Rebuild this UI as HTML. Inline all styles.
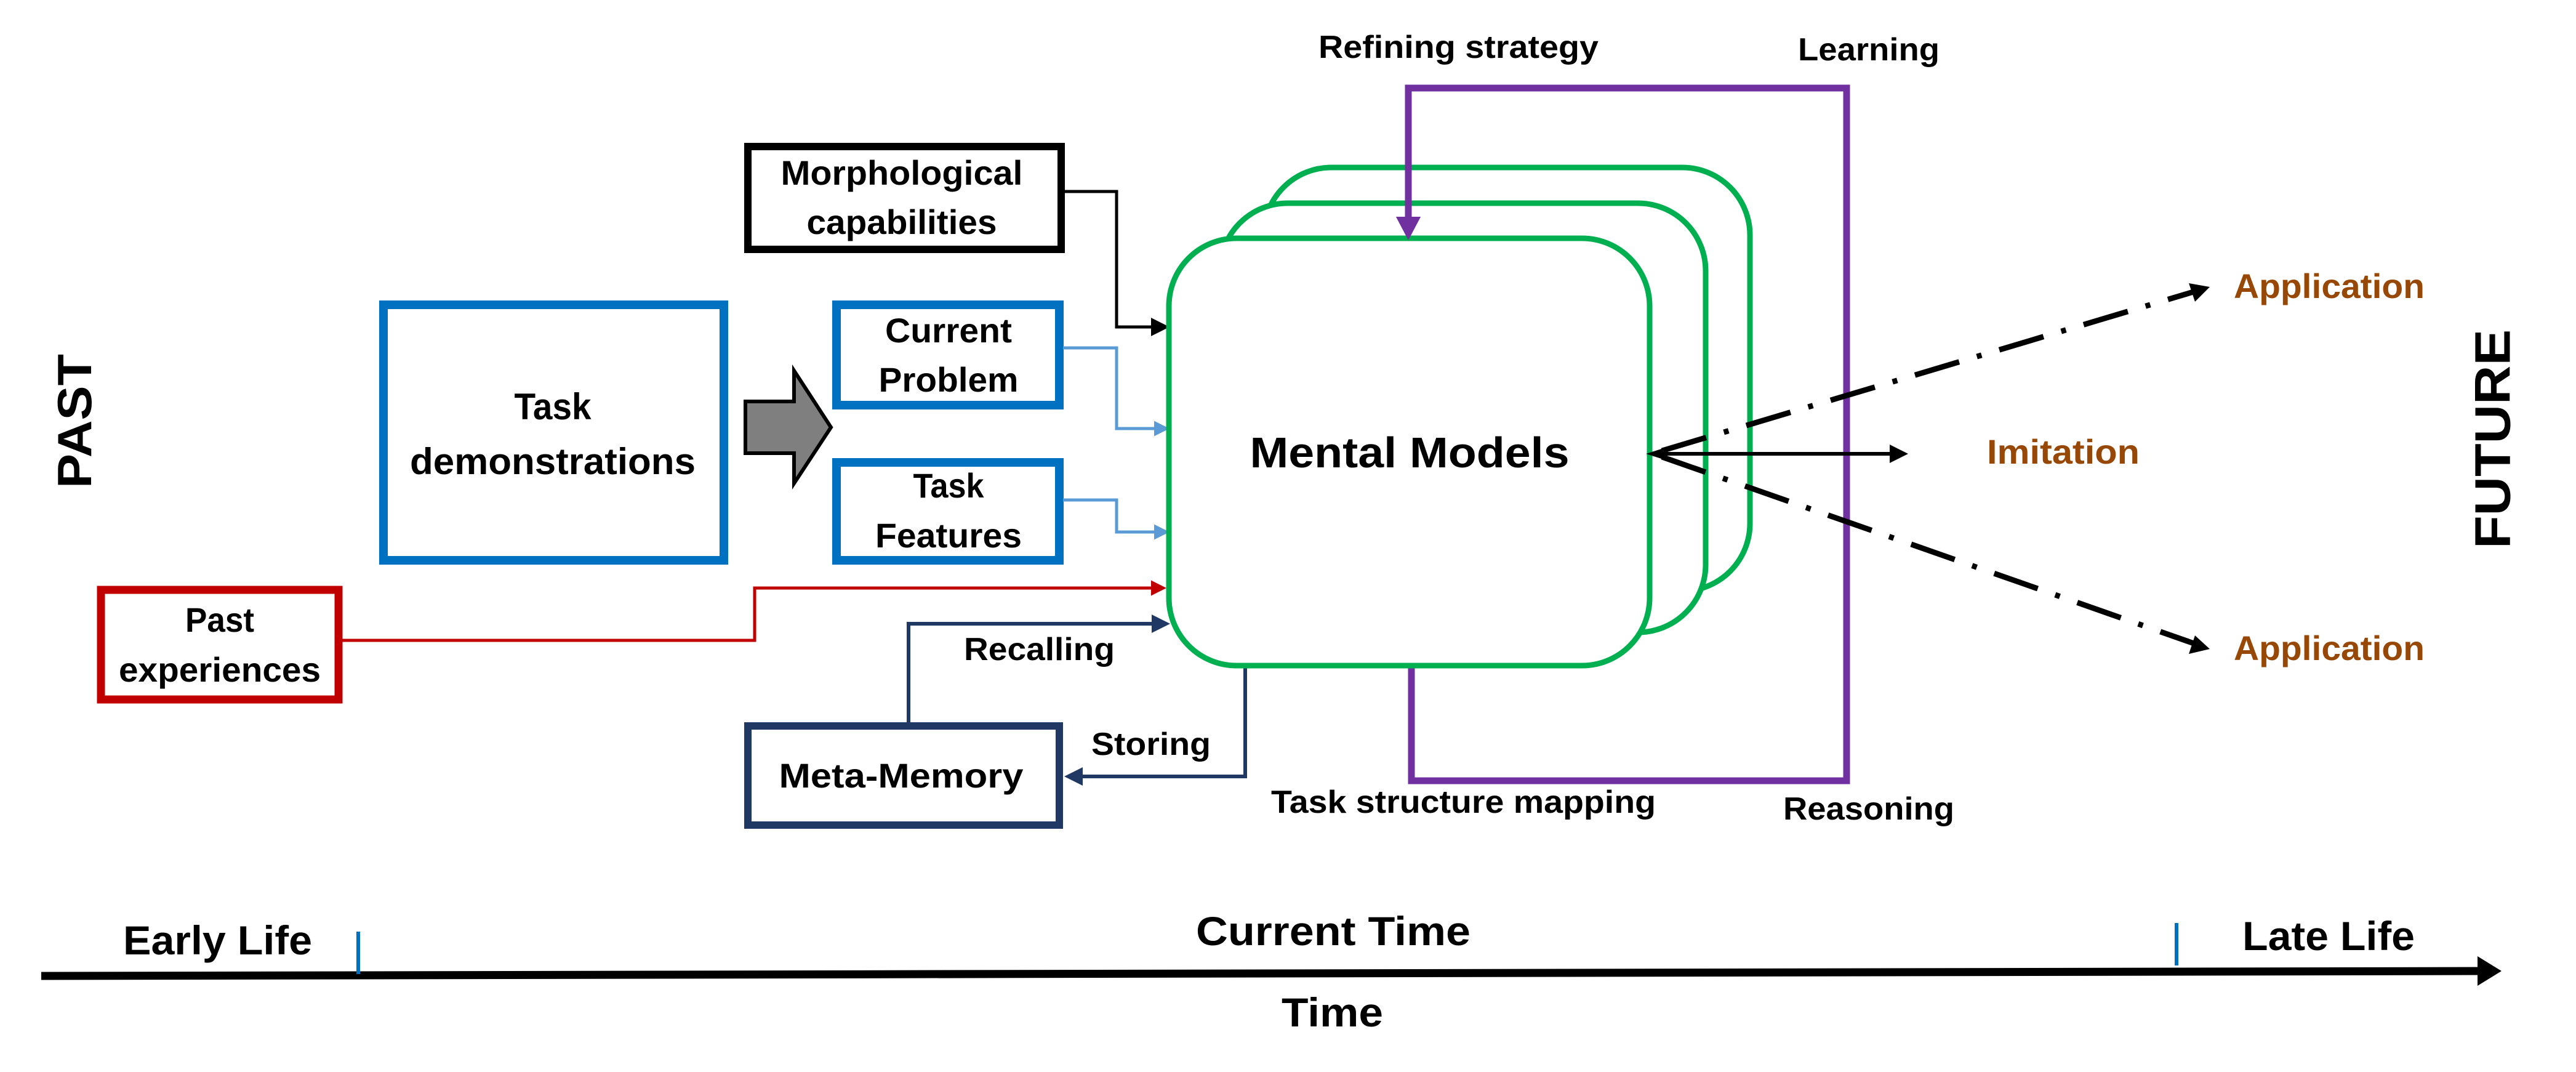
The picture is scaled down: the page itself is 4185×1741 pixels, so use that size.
<!DOCTYPE html>
<html><head><meta charset="utf-8"><style>
html,body{margin:0;padding:0;background:#fff;}
svg{display:block;}
text{font-family:"Liberation Sans",sans-serif;font-weight:bold;}
</style></head><body>
<svg width="4185" height="1741" viewBox="0 0 4185 1741" xmlns="http://www.w3.org/2000/svg">
<defs>
<marker id="ab" markerWidth="6" markerHeight="6" refX="5" refY="3" orient="auto" markerUnits="strokeWidth"><path d="M0,0 L6,3 L0,6 z" fill="#000"/></marker>
<marker id="alb" markerWidth="5" markerHeight="5" refX="4" refY="2.5" orient="auto" markerUnits="strokeWidth"><path d="M0,0 L5,2.5 L0,5 z" fill="#5B9BD5"/></marker>
<marker id="ar" markerWidth="5" markerHeight="5" refX="4" refY="2.5" orient="auto" markerUnits="strokeWidth"><path d="M0,0 L5,2.5 L0,5 z" fill="#C00000"/></marker>
<marker id="an" markerWidth="5" markerHeight="5" refX="4" refY="2.5" orient="auto" markerUnits="strokeWidth"><path d="M0,0 L5,2.5 L0,5 z" fill="#203864"/></marker>
<marker id="ap" markerWidth="4" markerHeight="4" refX="3.5" refY="2" orient="auto" markerUnits="strokeWidth"><path d="M0,0 L4,2 L0,4 z" fill="#7030A0"/></marker>
</defs>

<!-- PAST / FUTURE -->
<text x="121" y="684" font-size="78" text-anchor="middle" dominant-baseline="central" transform="rotate(-90 121 684)" textLength="218" lengthAdjust="spacingAndGlyphs">PAST</text>
<text x="4050" y="713" font-size="82" text-anchor="middle" dominant-baseline="central" transform="rotate(-90 4050 713)" textLength="356" lengthAdjust="spacingAndGlyphs">FUTURE</text>

<!-- Boxes -->
<rect x="1215" y="238" width="509" height="167" fill="#fff" stroke="#000" stroke-width="12"/>
<text x="1465" y="300" font-size="56" text-anchor="middle" textLength="393" lengthAdjust="spacingAndGlyphs">Morphological</text>
<text x="1465" y="380" font-size="56" text-anchor="middle" textLength="309" lengthAdjust="spacingAndGlyphs">capabilities</text>

<rect x="623" y="495" width="553" height="415" fill="#fff" stroke="#0070C0" stroke-width="14"/>
<text x="898" y="681" font-size="60" text-anchor="middle" textLength="125" lengthAdjust="spacingAndGlyphs">Task</text>
<text x="898" y="770" font-size="60" text-anchor="middle" textLength="464" lengthAdjust="spacingAndGlyphs">demonstrations</text>

<polygon points="1211,652 1290,652 1290,602 1350,694 1290,785 1290,736 1211,736" fill="#7f7f7f" stroke="#000" stroke-width="6" stroke-linejoin="miter"/>

<rect x="1359" y="495" width="362" height="163" fill="#fff" stroke="#0070C0" stroke-width="14"/>
<text x="1541" y="556" font-size="56" text-anchor="middle" textLength="206" lengthAdjust="spacingAndGlyphs">Current</text>
<text x="1541" y="636" font-size="56" text-anchor="middle" textLength="227" lengthAdjust="spacingAndGlyphs">Problem</text>

<rect x="1359" y="751" width="362" height="159" fill="#fff" stroke="#0070C0" stroke-width="14"/>
<text x="1541" y="808" font-size="56" text-anchor="middle" textLength="115" lengthAdjust="spacingAndGlyphs">Task</text>
<text x="1541" y="889" font-size="56" text-anchor="middle" textLength="238" lengthAdjust="spacingAndGlyphs">Features</text>

<rect x="164" y="958" width="386" height="178" fill="#fff" stroke="#C00000" stroke-width="13"/>
<text x="357" y="1026" font-size="56" text-anchor="middle" textLength="112" lengthAdjust="spacingAndGlyphs">Past</text>
<text x="357" y="1107" font-size="56" text-anchor="middle" textLength="328" lengthAdjust="spacingAndGlyphs">experiences</text>

<rect x="1215" y="1179" width="506" height="161" fill="#fff" stroke="#203864" stroke-width="12"/>
<text x="1464" y="1279" font-size="56" text-anchor="middle" textLength="397" lengthAdjust="spacingAndGlyphs">Meta-Memory</text>

<!-- connectors to mental model -->
<polyline points="1730,311 1814,311 1814,531 1895,531" fill="none" stroke="#000" stroke-width="5" marker-end="url(#ab)"/>
<polyline points="1727,565 1814,565 1814,696 1895,696" fill="none" stroke="#5B9BD5" stroke-width="5" marker-end="url(#alb)"/>
<polyline points="1727,812 1814,812 1814,864 1895,864" fill="none" stroke="#5B9BD5" stroke-width="5" marker-end="url(#alb)"/>
<polyline points="556,1040 1226,1040 1226,955 1890,955" fill="none" stroke="#C00000" stroke-width="5" marker-end="url(#ar)"/>
<polyline points="1476,1173 1476,1013 1895,1013" fill="none" stroke="#203864" stroke-width="6" marker-end="url(#an)"/>
<polyline points="2023,1072 2023,1261 1735,1261" fill="none" stroke="#203864" stroke-width="6" marker-end="url(#an)"/>
<text x="1566" y="1072" font-size="52" textLength="245" lengthAdjust="spacingAndGlyphs">Recalling</text>
<text x="1773" y="1226" font-size="52" textLength="194" lengthAdjust="spacingAndGlyphs">Storing</text>

<!-- purple loop -->
<polyline points="2293,1081 2293,1268 3000,1268 3000,143 2288,143 2288,380" fill="none" stroke="#7030A0" stroke-width="11" marker-end="url(#ap)"/>

<!-- green stacked boxes -->
<rect x="2053" y="272" width="790" height="688" rx="110" fill="#fff" stroke="#00B050" stroke-width="9"/>
<rect x="1982" y="330" width="789" height="697" rx="110" fill="#fff" stroke="#00B050" stroke-width="9"/>
<line x1="2288" y1="143" x2="2288" y2="360" stroke="#7030A0" stroke-width="11"/>
<polygon points="2268,352 2308,352 2288,390" fill="#7030A0"/>
<rect x="1899" y="387" width="781" height="694" rx="110" fill="#fff" stroke="#00B050" stroke-width="9"/>
<polygon points="2268,352 2308,352 2288,390" fill="#7030A0"/>
<text x="2290" y="759" font-size="70" text-anchor="middle" textLength="519" lengthAdjust="spacingAndGlyphs">Mental Models</text>

<!-- right arrows -->
<line x1="2684" y1="737" x2="3080" y2="737" stroke="#000" stroke-width="6"/>
<polygon points="3100,737 3070,722 3070,752" fill="#000"/>
<polyline points="2762,712 2684,737 2762,762" fill="none" stroke="#000" stroke-width="6"/>
<line x1="2700" y1="732" x2="3570" y2="472" stroke="#000" stroke-width="9" stroke-dasharray="75,30,8,30"/>
<polygon points="3590,466 3556,460 3566,490" fill="#000"/>
<line x1="2700" y1="742" x2="3570" y2="1047" stroke="#000" stroke-width="9" stroke-dasharray="75,30,8,30"/>
<polygon points="3590,1054 3566,1032 3556,1062" fill="#000"/>

<text x="3629" y="484" font-size="56" fill="#984806" textLength="310" lengthAdjust="spacingAndGlyphs">Application</text>
<text x="3228" y="753" font-size="56" fill="#984806" textLength="248" lengthAdjust="spacingAndGlyphs">Imitation</text>
<text x="3629" y="1072" font-size="56" fill="#984806" textLength="310" lengthAdjust="spacingAndGlyphs">Application</text>

<text x="2142" y="94" font-size="52" textLength="455" lengthAdjust="spacingAndGlyphs">Refining strategy</text>
<text x="2921" y="98" font-size="52" textLength="230" lengthAdjust="spacingAndGlyphs">Learning</text>
<text x="2065" y="1320" font-size="52" textLength="625" lengthAdjust="spacingAndGlyphs">Task structure mapping</text>
<text x="2897" y="1331" font-size="52" textLength="278" lengthAdjust="spacingAndGlyphs">Reasoning</text>

<!-- timeline -->
<line x1="67" y1="1585" x2="4035" y2="1577" stroke="#000" stroke-width="13"/>
<polygon points="4064,1577 4025,1553 4025,1601" fill="#000"/>
<line x1="582" y1="1513" x2="582" y2="1582" stroke="#0070C0" stroke-width="6"/>
<line x1="3536" y1="1499" x2="3536" y2="1568" stroke="#0070C0" stroke-width="6"/>
<text x="200" y="1550" font-size="66" textLength="307" lengthAdjust="spacingAndGlyphs">Early Life</text>
<text x="1943" y="1535" font-size="66" textLength="446" lengthAdjust="spacingAndGlyphs">Current Time</text>
<text x="3643" y="1543" font-size="66" textLength="280" lengthAdjust="spacingAndGlyphs">Late Life</text>
<text x="2082" y="1667" font-size="66" textLength="165" lengthAdjust="spacingAndGlyphs">Time</text>
</svg>
</body></html>
